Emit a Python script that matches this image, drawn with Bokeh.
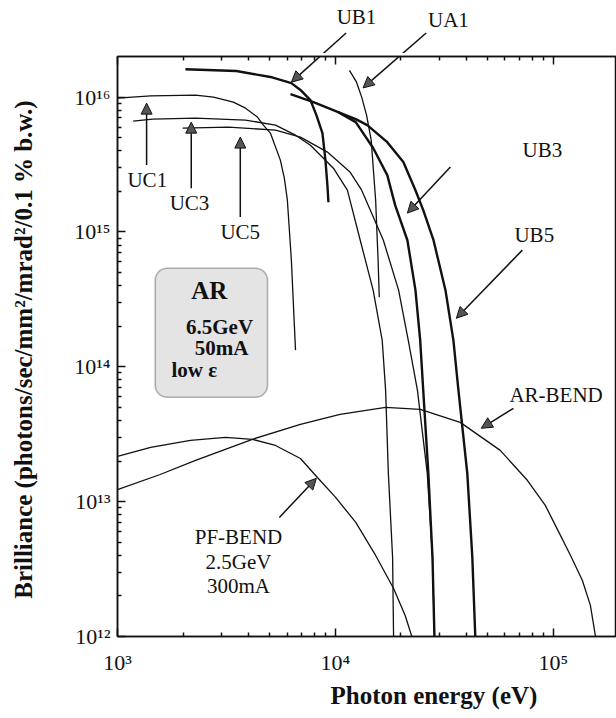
import math
from bokeh.plotting import figure
from bokeh.layouts import column
from bokeh.models import (LogAxis, FixedTicker, Label, Arrow, NormalHead,
                          BoxAnnotation, Range1d, Title)
from bokeh.embed import file_html
from bokeh.resources import INLINE

# ---------------- data (photon energy in eV, brilliance) ----------------
UC1_E = [1.00e3, 1.42e3, 2.28e3, 2.76e3, 3.40e3, 3.87e3, 4.39e3, 4.67e3, 5.03e3, 5.59e3, 5.83e3, 6.02e3, 6.28e3, 6.56e3]
UC1_B = [9.84e15, 1.02e16, 1.035e16, 1.00e16, 9.18e15, 8.28e15, 7.11e15, 6.20e15, 5.41e15, 3.41e15, 2.51e15, 1.72e15, 6.17e14, 1.33e14]

UC3_E = [1.18e3, 1.45e3, 2.28e3, 3.87e3, 5.31e3, 6.56e3, 7.68e3, 9.79e3, 1.135e4, 1.30e4, 1.49e4, 1.64e4, 1.70e4, 1.75e4, 1.83e4, 1.85e4]
UC3_B = [6.64e15, 6.87e15, 6.98e15, 6.75e15, 6.20e15, 5.22e15, 4.40e15, 2.97e15, 2.04e15, 8.68e14, 3.70e14, 1.57e14, 6.69e13, 1.62e13, 3.86e12, 9.5e11]

UC5_E = [1.99e3, 3.23e3, 5.31e3, 6.91e3, 9.19e3, 1.17e4, 1.32e4, 1.66e4, 1.95e4, 2.16e4, 2.38e4, 2.64e4, 2.79e4, 2.85e4]
UC5_B = [5.89e15, 5.99e15, 5.69e15, 5.05e15, 3.91e15, 2.77e15, 2.04e15, 8.68e14, 3.70e14, 1.57e14, 6.69e13, 1.62e13, 3.86e12, 9.5e11]

UB1_E = [2.05e3, 3.51e3, 5.03e3, 6.28e3, 6.91e3, 7.68e3, 8.18e3, 8.72e3, 9.00e3, 9.19e3, 9.29e3]
UB1_B = [1.61e16, 1.56e16, 1.41e16, 1.27e16, 1.13e16, 9.50e15, 7.35e15, 5.41e15, 3.41e15, 2.22e15, 1.66e15]

UA1_E = [1.16e4, 1.25e4, 1.32e4, 1.39e4, 1.46e4, 1.53e4, 1.57e4, 1.59e4]
UA1_B = [1.58e16, 1.29e16, 1.00e16, 7.35e15, 4.80e15, 1.72e15, 6.17e14, 3.28e14]

UB3_E = [6.22e3, 7.93e3, 1.03e4, 1.24e4, 1.49e4, 1.73e4, 1.88e4, 2.14e4, 2.33e4, 2.45e4, 2.53e4, 2.67e4, 2.79e4, 2.85e4]
UB3_B = [1.05e16, 9.18e15, 7.74e15, 6.52e15, 4.19e15, 2.64e15, 1.58e15, 8.68e14, 3.70e14, 1.57e14, 6.69e13, 1.62e13, 3.86e12, 9.5e11]

UB5_E = [1.03e4, 1.24e4, 1.40e4, 1.73e4, 2.05e4, 2.33e4, 2.53e4, 2.82e4, 3.20e4, 3.48e4, 3.67e4, 4.03e4, 4.25e4, 4.39e4]
UB5_B = [7.74e15, 6.87e15, 6.20e15, 4.63e15, 3.30e15, 2.04e15, 1.45e15, 8.68e14, 3.70e14, 1.57e14, 6.69e13, 1.62e13, 3.86e12, 9.5e11]

PF_BEND_E = [1.00e3, 1.42e3, 2.16e3, 3.13e3, 4.16e3, 5.31e3, 6.91e3, 8.27e3, 1.00e4, 1.24e4, 1.53e4, 1.85e4, 2.09e4, 2.27e4]
PF_BEND_B = [2.17e13, 2.53e13, 2.85e13, 3.00e13, 2.90e13, 2.61e13, 2.09e13, 1.51e13, 1.08e13, 7.02e12, 3.99e12, 2.27e12, 1.43e12, 9.4e11]

AR_BEND_E = [1.00e3, 1.57e3, 2.28e3, 4.16e3, 6.91e3, 1.05e4, 1.70e4, 2.45e4, 3.74e4, 5.71e4, 7.60e4, 9.19e4, 1.05e5, 1.20e5, 1.36e5, 1.48e5, 1.57e5]
AR_BEND_B = [1.23e13, 1.59e13, 2.02e13, 2.90e13, 3.74e13, 4.44e13, 5.01e13, 4.84e13, 3.87e13, 2.40e13, 1.44e13, 9.38e12, 6.12e12, 3.99e12, 2.60e12, 1.70e12, 9.5e11]

X_TICKS = [1e3, 1e4, 1e5]
X_TICK_LABELS = ["10³", "10⁴", "10⁵"]
Y_TICKS = [1e12, 1e13, 1e14, 1e15, 1e16]
Y_TICK_LABELS = ["10¹²", "10¹³", "10¹⁴", "10¹⁵", "10¹⁶"]

X_MIN, X_MAX = 1e3, 1.95e5
Y_MIN, Y_MAX = 1e12, 2e16

SERIF = "Liberation Serif"
INK = "#111111"
W = 616
LEFT, BOTTOM = 117, 82
TOP_STRIP = 53        # height of the strip above the axis box (labels UB1, UA1)
MAIN_TOP = 3          # border above the axis box inside the main figure
MAIN_H = 718 - TOP_STRIP

x_range = Range1d(X_MIN, X_MAX)

# ---------------- main figure ----------------
p = figure(width=W, height=MAIN_H, x_axis_type="log", y_axis_type="log",
           x_range=x_range, y_range=Range1d(Y_MIN, Y_MAX), title=None,
           output_backend="svg", toolbar_location=None,
           min_border_left=LEFT, min_border_top=MAIN_TOP, min_border_bottom=BOTTOM,
           min_border_right=0)
p.xgrid.visible = False
p.ygrid.visible = False
p.outline_line_color = INK
p.outline_line_width = 1.5
p.background_fill_color = "white"
p.border_fill_color = "white"

xminor = [float(m * 10 ** e) for e in (3, 4, 5) for m in range(2, 10)]
yminor = [float(m * 10 ** e) for e in (12, 13, 14, 15) for m in range(2, 10)]
xt = FixedTicker(ticks=X_TICKS, minor_ticks=xminor)
yt = FixedTicker(ticks=Y_TICKS, minor_ticks=yminor)

def style_axis(ax, ticker, labels=None):
    ax.ticker = ticker
    ax.axis_line_color = INK
    ax.axis_line_width = 1.5
    ax.major_tick_in = 8
    ax.major_tick_out = 0
    ax.minor_tick_in = 4
    ax.minor_tick_out = 0
    ax.major_tick_line_color = INK
    ax.minor_tick_line_color = INK
    ax.major_tick_line_width = 1.5
    ax.minor_tick_line_width = 1.5
    ax.major_label_text_font = SERIF
    ax.major_label_text_color = INK
    ax.major_label_text_font_size = "22px"
    if labels is not None:
        ax.major_label_overrides = labels
    else:
        ax.major_label_text_font_size = "1px"
        ax.major_label_text_alpha = 0.0
        ax.major_label_standoff = 0

style_axis(p.xaxis[0], xt, {float(t): s for t, s in zip(X_TICKS, X_TICK_LABELS)})
style_axis(p.yaxis[0], yt, {float(t): s for t, s in zip(Y_TICKS, Y_TICK_LABELS)})
p.xaxis[0].major_label_standoff = 13
p.yaxis[0].major_label_standoff = 7

top_ax = LogAxis()
style_axis(top_ax, xt)
p.add_layout(top_ax, "above")

p.yaxis[0].axis_label = "Brilliance  (photons/sec/mm²/mrad²/0.1 % b.w.)"
p.yaxis[0].axis_label_text_font = SERIF
p.yaxis[0].axis_label_text_font_style = "bold"
p.yaxis[0].axis_label_text_font_size = "25px"
p.yaxis[0].axis_label_text_color = INK
p.yaxis[0].axis_label_standoff = 34

p.add_layout(Title(text="Photon energy (eV)", align="left", offset=213,
                   text_font=SERIF, text_font_style="bold",
                   text_font_size="25px", text_color=INK, standoff=4), "below")

thin = [(UC1_E, UC1_B), (UC3_E, UC3_B), (UC5_E, UC5_B), (UA1_E, UA1_B),
        (PF_BEND_E, PF_BEND_B), (AR_BEND_E, AR_BEND_B)]
thick = [(UB1_E, UB1_B), (UB3_E, UB3_B), (UB5_E, UB5_B)]
for xs, ys in thin:
    p.line(xs, ys, line_color=INK, line_width=1.3)
for xs, ys in thick:
    p.line(xs, ys, line_color=INK, line_width=2.4)

# ---------------- strip above the box, continuing the same y scale ----------------
frame_h = MAIN_H - MAIN_TOP - BOTTOM
px_per_decade = frame_h / math.log10(Y_MAX / Y_MIN)
strip_bottom = Y_MAX * 10 ** (MAIN_TOP / px_per_decade)
strip_top = Y_MAX * 10 ** ((MAIN_TOP + TOP_STRIP) / px_per_decade)

s = figure(width=W, height=TOP_STRIP, x_axis_type="log", y_axis_type="log",
           x_range=x_range, y_range=Range1d(strip_bottom, strip_top), title=None,
           x_axis_location=None, y_axis_location=None,
           output_backend="svg", toolbar_location=None,
           min_border_left=LEFT, min_border_top=0, min_border_bottom=0,
           min_border_right=0)
s.grid.visible = False
s.outline_line_color = None
s.background_fill_color = "white"
s.border_fill_color = "white"

# ---------------- annotations ----------------
def txt(fig, x, y, t, size="21px", bold=False):
    fig.add_layout(Label(x=x, y=y, text=t, text_font=SERIF, text_font_size=size,
                         text_font_style="bold" if bold else "normal",
                         text_color=INK, text_align="center", text_baseline="middle"))

def arrow(figs, x0, y0, x1, y1):
    for fig in figs:
        fig.add_layout(Arrow(x_start=x0, y_start=y0, x_end=x1, y_end=y1,
                             line_color=INK, line_width=1.5,
                             end=NormalHead(size=11, fill_color="#555555",
                                            line_color=INK, line_width=1)))

txt(s, 1.25e4, 3.93e16, "UB1")
arrow([s, p], 1.12e4, 2.99e16, 6.28e3, 1.29e16)
txt(s, 3.30e4, 3.72e16, "UA1")
arrow([s, p], 2.61e4, 2.99e16, 1.34e4, 1.17e16)
txt(p, 8.91e4, 4.05e15, "UB3")
arrow([p], 3.37e4, 3.03e15, 2.14e4, 1.38e15)
txt(p, 8.18e4, 9.46e14, "UB5")
arrow([p], 7.21e4, 7.33e14, 3.59e4, 2.29e14)
txt(p, 1.03e5, 6.15e13, "AR-BEND")
arrow([p], 6.56e4, 4.92e13, 4.67e4, 3.50e13)
txt(p, 3.59e3, 5.43e12, "PF-BEND")
txt(p, 3.59e3, 3.54e12, "2.5GeV")
txt(p, 3.59e3, 2.35e12, "300mA")
arrow([p], 5.53e3, 7.64e12, 8.18e3, 1.49e13)
txt(p, 1.37e3, 2.42e15, "UC1")
arrow([p], 1.36e3, 3.13e15, 1.36e3, 9.02e15)
txt(p, 2.14e3, 1.63e15, "UC3")
arrow([p], 2.18e3, 2.11e15, 2.18e3, 6.52e15)
txt(p, 3.66e3, 9.95e14, "UC5")
arrow([p], 3.66e3, 1.29e15, 3.66e3, 5.05e15)

p.add_layout(BoxAnnotation(left=1.49e3, right=4.88e3, top=5.38e14, bottom=5.94e13,
                           fill_color="#e4e4e4", fill_alpha=1.0,
                           line_color=INK, line_width=1.6, border_radius=12))
txt(p, 2.64e3, 3.70e14, "AR", size="25px", bold=True)
txt(p, 2.94e3, 1.96e14, "6.5GeV", size="21px", bold=True)
txt(p, 3.00e3, 1.37e14, "50mA", size="21px", bold=True)
txt(p, 2.25e3, 9.42e13, "low ε", size="21px", bold=True)

layout = column(s, p, spacing=0)
open("out.html", "w").write(file_html(layout, INLINE))
